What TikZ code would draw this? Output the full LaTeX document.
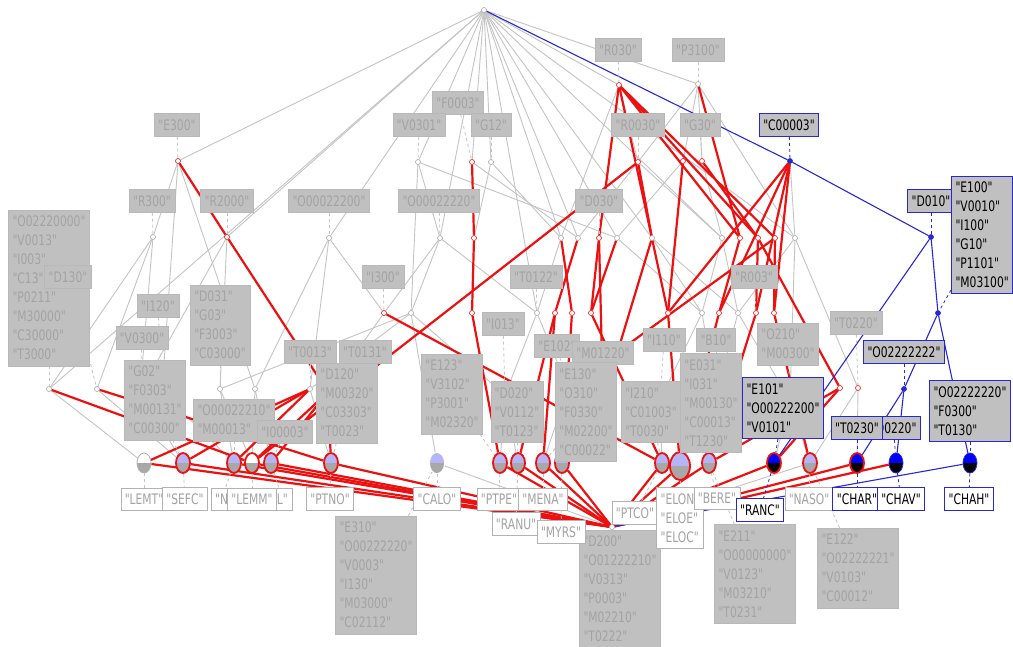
\documentclass[tikz,border=0pt]{standalone}
\usepackage{fontspec}
\newfontfamily\lblfont{DejaVu Sans}[FakeStretch=0.74]
\usetikzlibrary{shapes.geometric,backgrounds}

\definecolor{lgray}{RGB}{192,192,192}
\definecolor{lbltext}{RGB}{163,163,163}
\definecolor{edgegray}{RGB}{196,196,196}
\definecolor{latred}{RGB}{236,16,16}
\definecolor{latblue}{RGB}{40,40,210}
\definecolor{lilac}{RGB}{180,180,246}
\definecolor{ballgray}{RGB}{168,168,168}

\tikzset{
  cpt/.style={circle,draw=black!35,fill=white,inner sep=0pt,minimum size=5pt,line width=0.6pt},
  cptr/.style={cpt,draw=latred},
  cptb/.style={cpt,draw=latblue,fill=latblue},
  lbl/.style={rectangle,fill=lgray,draw=black!28,text=lbltext,font=\lblfont\fontsize{14.5}{19}\selectfont,align=left,inner xsep=4pt,inner ysep=6pt},
  lblb/.style={lbl,draw=latblue,line width=1pt,text=black},
  obj/.style={lbl,fill=white,draw=black!30},
  objb/.style={lbl,fill=white,draw=latblue,line width=1pt,text=black},
  ball/.style n args={3}{ellipse,minimum width=14pt,minimum height=20pt,inner sep=0pt,draw=#3,line width=1.8pt,
    path picture={\fill[#1] (path picture bounding box.north west) rectangle (path picture bounding box.east);
                  \fill[#2] (path picture bounding box.west) rectangle (path picture bounding box.south east);}},
  gl/.style={draw=edgegray,line width=0.9pt},
  rl/.style={draw=latred,line width=2.2pt},
  bl/.style={draw=latblue,line width=1.1pt},
  gd/.style={draw=edgegray,dashed,line width=0.8pt},
  bd/.style={draw=latblue,dashed,line width=0.8pt},
}

\begin{document}
\begin{tikzpicture}[x=1pt,y=-1pt]
\useasboundingbox (0,0) rectangle (1013,646);

% concepts
\node[cpt] (top) at (484,10) {};
\node[cptr] (nR030) at (619,85) {};
\node[cpt] (nP3100) at (698,84) {};
\node[cptr] (nE300) at (178,161) {};
\node[cpt] (nV0301) at (418,162) {};
\node[cptr] (nF0003) at (472,162) {};
\node[cpt] (nG12) at (491,162) {};
\node[cptr] (nR0030) at (638,162) {};
\node[cptr] (nA683) at (683,161) {};
\node[cptr] (nG30) at (702,161) {};
\node[cptb] (nC00003) at (790,161) {};
\node[cpt] (nR300) at (153,237) {};
\node[cptr] (nR2000) at (227,237) {};
\node[cpt] (nO22200) at (329,238) {};
\node[cpt] (nO22220) at (440,238) {};
\node[cptr] (nC474) at (474,238) {};
\node[cpt] (nC561) at (561,238) {};
\node[cpt] (nC578) at (578,238) {};
\node[cptr] (nD030) at (599,238) {};
\node[cpt] (nC617) at (617,238) {};
\node[cpt] (nC652) at (652,238) {};
\node[cpt] (nC722) at (722,238) {};
\node[cptr] (nC740) at (740,238) {};
\node[cptr] (nC758) at (758,238) {};
\node[cptr] (nC775) at (775,238) {};
\node[cpt] (nC795) at (795,238) {};
\node[cptb] (nD010) at (931,237) {};
\node[cptr] (nI300) at (384,313) {};
\node[cpt] (nC411) at (411,313) {};
\node[cptr] (nC472) at (472,313) {};
\node[cpt] (nT0122) at (537,313) {};
\node[cptr] (nC555) at (555,313) {};
\node[cptr] (nC572) at (572,313) {};
\node[cptr] (nC591) at (591,313) {};
\node[cptr] (nC668) at (668,313) {};
\node[cpt] (nC702) at (702,313) {};
\node[cptr] (nC719) at (719,313) {};
\node[cpt] (nC738) at (738,313) {};
\node[cptr] (nC756) at (756,313) {};
\node[cptr] (nC774) at (774,313) {};
\node[cptb] (nE100) at (938,313) {};
\node[cpt] (nO2220) at (49,389) {};
\node[cpt] (nD130) at (97,389) {};
\node[cpt] (nV0300) at (140,392) {};
\node[cpt] (nI120) at (162,392) {};
\node[cpt] (nD031) at (220,389) {};
\node[cpt] (nC255) at (255,389) {};
\node[cpt] (nT0013) at (310,389) {};
\node[cpt] (nT0131) at (328,392) {};
\node[cpt] (nI013) at (505,395) {};
\node[cpt] (nE102) at (568,388) {};
\node[cpt] (nM01220) at (603,400) {};
\node[cpt] (nI110) at (660,400) {};
\node[cpt] (nB10) at (716,395) {};
\node[cpt] (nO210) at (790,400) {};
\node[cptr] (nC840) at (840,388) {};
\node[cptr] (nT0220) at (858,388) {};
\node[cptb] (nO2222) at (904,389) {};
\node[cpt] (bot) at (612,527) {};

% objects
\node[ball={white}{ballgray}{black!30},line width=0.8pt] (bLEMT) at (144,463) {};
\node[ball={lilac}{ballgray}{latred}] (bSEFC) at (183,463) {};
\node[ball={lilac}{ballgray}{latred}] (bN) at (234,463) {};
\node[ball={white}{ballgray}{latred}] (bLEMM) at (252,463) {};
\node[ball={lilac}{ballgray}{latred}] (bL) at (271,463) {};
\node[ball={lilac}{ballgray}{latred}] (bPTNO) at (331,463) {};
\node[ball={lilac}{ballgray}{none}] (bCALO) at (437,463) {};
\node[ball={lilac}{ballgray}{latred}] (bPTPE) at (500,463) {};
\node[ball={lilac}{ballgray}{latred}] (bRANU) at (518,463) {};
\node[ball={lilac}{ballgray}{latred}] (bMENA) at (543,463) {};
\node[ball={lilac}{ballgray}{latred}] (bMYRS) at (562,463) {};
\node[ball={lilac}{ballgray}{latred}] (bPTCO) at (662,463) {};
\node[ball={lilac}{ballgray}{latred},minimum width=20pt,minimum height=28pt] (bELON) at (680,466) {};
\node[ball={lilac}{ballgray}{latred}] (bBERE) at (709,463) {};
\node[ball={blue}{black}{latred}] (bRANC) at (774,463) {};
\node[ball={lilac}{ballgray}{latred}] (bNASO) at (810,463) {};
\node[ball={blue}{black}{latred}] (bCHAR) at (857,463) {};
\node[ball={blue}{black}{latblue},line width=0.8pt] (bCHAV) at (896,463) {};
\node[ball={blue}{black}{latblue},line width=0.8pt] (bCHAH) at (970,463) {};

% attribute labels
\node[lbl] (lR030) at (618,50) {"R030"};
\node[lbl] (lP3100) at (698,50) {"P3100"};
\node[lbl] (lF0003) at (458,103) {"F0003"};
\node[lbl] (lE300) at (177,125) {"E300"};
\node[lbl] (lV0301) at (419,125) {"V0301"};
\node[lbl] (lG12) at (491,125) {"G12"};
\node[lbl] (lR0030) at (638,125) {"R0030"};
\node[lbl] (lG30) at (700,125) {"G30"};
\node[lblb] (lC00003) at (789,125) {"C00003"};
\node[lbl] (lR300) at (152,201) {"R300"};
\node[lbl] (lR2000) at (227,201) {"R2000"};
\node[lbl] (lO22200) at (329,201) {"O00022200"};
\node[lbl] (lO22220) at (439,201) {"O00022220"};
\node[lbl] (lD030) at (599,201) {"D030"};
\node[lblb] (lD010) at (931,201) {"D010"};
\node[lblb,anchor=west] (lE100) at (951,235) {"E100"\\"V0010"\\"I100"\\"G10"\\"P1101"\\"M03100"};
\node[lbl] (lBig) at (49,288) {"O02220000"\\"V0013"\\"I003"\\"C13"\\"P0211"\\"M30000"\\"C30000"\\"T3000"};
\node[lbl] (lD130) at (68,277) {"D130"};
\node[lbl] (lI300) at (383,277) {"I300"};
\node[lbl] (lT0122) at (536,277) {"T0122"};
\node[lbl] (lR003) at (754,277) {"R003"};
\node[lbl] (lI120) at (158,306) {"I120"};
\node[lbl] (lD031) at (220,325) {"D031"\\"G03"\\"F3003"\\"C03000"};
\node[lbl] (lV0300) at (142,338) {"V0300"};
\node[lbl] (lI013) at (503,324) {"I013"};
\node[lbl] (lT0220) at (856,323) {"T0220"};
\node[lbl] (lI110) at (664,340) {"I110"};
\node[lbl] (lB10) at (716,340) {"B10"};
\node[lbl] (lO210) at (788,344) {"O210"\\"M00300"};
\node[lbl] (lE102) at (557,346) {"E102"};
\node[lbl] (lM01220) at (603,353) {"M01220"};
\node[lbl] (lT0013) at (310,352) {"T0013"};
\node[lbl] (lT0131) at (365,352) {"T0131"};
\node[lblb] (lO2222) at (904,352) {"O02222222"};
\node[lbl] (lG02) at (155,400) {"G02"\\"F0303"\\"M00131"\\"C00300"};
\node[lbl] (lD120) at (347,403) {"D120"\\"M00320"\\"C03303"\\"T0023"};
\node[lbl] (lE123) at (452,394) {"E123"\\"V3102"\\"P3001"\\"M02320"};
\node[lbl] (lD020) at (517,412) {"D020"\\"V0112"\\"T0123"};
\node[lbl] (lE130) at (586,412) {"E130"\\"O310"\\"F0330"\\"M02200"\\"C00022"};
\node[lbl] (lI210) at (651,412) {"I210"\\"C01003"\\"T0030"};
\node[lbl] (lE031) at (711,403) {"E031"\\"I031"\\"M00130"\\"C00013"\\"T1230"};
\node[lblb] (lE101) at (783,408) {"E101"\\"O00222200"\\"V0101"};
\node[lbl] (lO22210) at (234,420) {"O00022210"\\"M00013"};
\node[lbl] (lI00003) at (285,432) {"I00003"};
\node[lblb,anchor=east] (lO0220) at (921,428) {"O0220"};
\node[lblb] (lT0230) at (857,428) {"T0230"};
\node[lblb] (lO22220b) at (970,411) {"O02222220"\\"F0300"\\"T0130"};
\node[lbl] (lE310) at (376,575) {"E310"\\"O00222220"\\"V0003"\\"I130"\\"M03000"\\"C02112"};
\node[lbl] (lD200) at (620,589) {"D200"\\"O01222210"\\"V0313"\\"P0003"\\"M02210"\\"T0222"};
\node[lbl] (lE211) at (755,574) {"E211"\\"O00000000"\\"V0123"\\"M03210"\\"T0231"};
\node[lbl] (lE122) at (858,568) {"E122"\\"O02222221"\\"V0103"\\"C00012"};

% object labels
\node[obj] (oLEMT) at (144,499) {"LEMT"};
\node[obj] (oSEFC) at (185,499) {"SEFC"};
\node[obj,anchor=west] (oN) at (211,499) {"N};
\node[obj,anchor=east] (oL) at (292,499) {L"};
\node[obj] (oLEMM) at (252,499) {"LEMM"};
\node[obj] (oPTNO) at (330,499) {"PTNO"};
\node[obj] (oCALO) at (437,499) {"CALO"};
\node[obj] (oPTPE) at (499,499) {"PTPE"};
\node[obj] (oMENA) at (543,499) {"MENA"};
\node[obj] (oRANU) at (516,524) {"RANU"};
\node[obj] (oMYRS) at (561,532) {"MYRS"};
\node[obj] (oPTCO) at (635,513) {"PTCO"};
\node[obj] (oELON) at (680,518) {"ELON"\\"ELOE"\\"ELOC"};
\node[obj] (oBERE) at (717,498) {"BERE"};
\node[objb] (oRANC) at (760,510) {"RANC"};
\node[obj] (oNASO) at (809,499) {"NASO"};
\node[objb] (oCHAR) at (857,499) {"CHAR"};
\node[objb] (oCHAV) at (901,499) {"CHAV"};
\node[objb] (oCHAH) at (969,499) {"CHAH"};

\begin{scope}[on background layer]
\fill[white] (0,0) rectangle (1013,646);
% gray edges
\foreach \a/\b in {top/nE300,top/nR2000,top/nO2220,top/nO22200,top/nV0301,top/nF0003,top/nG12,
  top/nO22220,top/nC561,top/nC578,top/nT0122,top/nC617,top/nC652,top/nR030,top/nP3100,top/nC722,top/nC795,
  nE300/nR300,nE300/nI120,nE300/nC255,nR300/nO2220,nR300/nD130,nR300/nV0300,nR2000/nD031,nR2000/nV0300,
  nO22200/nT0013,nO22200/nC255,nO22200/nI300,nO22220/nC411,nO22220/nI300,nO22220/nT0122,
  nV0301/nC617,nV0301/nO22220,nV0301/nC411,nG12/nC474,nG12/nC561,nF0003/nC578,
  nR030/nR0030,nR030/nC561,nP3100/nR0030,nP3100/nG30,nP3100/nA683,nP3100/nC795,
  nR0030/nC578,nR0030/nC722,nG30/nC722,nA683/nC617,nC00003/nC795,
  nC561/nT0122,nC617/nC702,nC652/nC702,nC652/nC738,nC722/nC702,nC722/nC738,nC795/nC738,
  nC795/nT0220,nC795/nO210,nI300/nT0131,nC411/nT0013,nC411/nI013,nC411/bCALO,nT0122/nE102,
  nT0122/nI013,nC702/nI110,nC702/nB10,nC738/nB10,nC738/nO210,nD031/nC411,
  nO2220/bLEMT,nD130/bSEFC,nV0300/bSEFC,nI120/bN,nD031/bN,nD031/bLEMM,nC255/bL,nC255/bLEMM,
  nT0013/bPTNO,nI013/bPTPE,nI013/bRANU,nE102/bMENA,nM01220/bMYRS,nI110/bPTCO,nB10/bELON,
  nB10/bBERE,nO210/bNASO,nO210/bRANC,nT0220/bCHAR,nT0220/bNASO,bCALO/bot,bNASO/bot}
  \draw[gl] (\a) -- (\b);
% red edges
\foreach \a/\b in {nE300/nR2000,nR2000/nT0131,nT0131/bPTNO,nO2220/bLEMM,nD130/bPTNO,
  bLEMT/nT0013,bN/nT0013,bLEMM/nT0131,bL/nT0131,bSEFC/nT0013,
  bLEMT/bot,bSEFC/bot,bN/bot,bLEMM/bot,bL/bot,bPTNO/bot,
  nR0030/bLEMM,nF0003/nC474,nC474/nC472,nC472/bPTPE,nI300/bPTCO,
  nR030/nD030,nR030/nC668,nR030/nC740,nR030/nC758,nR030/nC775,nP3100/nC740,
  nR0030/nC652,nC652/nM01220,nD030/nM01220,nC561/nC572,nC578/nC555,nD030/nC591,nC617/nC591,
  nC555/bRANU,nC555/bMENA,nC572/bMYRS,nC591/bPTCO,nC668/bELON,
  nC00003/nC719,nC00003/nC756,nC00003/nC774,nC00003/nC668,
  nC740/nC719,nC758/nC756,nC775/nC774,nC758/nC840,nA683/nC668,nG30/nC758,
  nC719/bELON,nC756/bBERE,nC774/bNASO,nC840/bBERE,nC840/bRANC,nC775/nE102,
  bPTPE/bot,bRANU/bot,bMENA/bot,bMYRS/bot,bPTCO/bot,bELON/bot,bBERE/bot,bRANC/bot,bCHAR/bot,bCHAV/bot}
  \draw[rl] (\a) -- (\b);
% blue edges
\foreach \a/\b in {top/nC00003,nC00003/nD010,nD010/nE100,nD010/bRANC,nE100/nO2222,nE100/bCHAH,
  nO2222/bCHAR,nO2222/bCHAV,bCHAH/bot}
  \draw[bl] (\a) -- (\b);
% label links
\foreach \a/\b in {lE300/nE300,lF0003/nF0003,lV0301/nV0301,lG12/nG12,lR030/nR030,lP3100/nP3100,
  lR0030/nR0030,lG30/nG30,lR300/nR300,lR2000/nR2000,lO22200/nO22200,lO22220/nO22220,lD030/nD030,
  lBig/nO2220,lD130/nD130,lI120/nI120,lV0300/nV0300,lG02/bSEFC,lD031/nD031,lT0013/nT0013,
  lO22210/bN,lI00003/bL,lT0131/nT0131,lD120/bPTNO,lI300/nI300,lT0122/nT0122,lI013/nI013,
  lE102/nE102,lM01220/nM01220,lE123/bPTPE,lD020/bRANU,lE130/bMENA,lI210/bPTCO,lE031/bELON,
  lI110/nI110,lB10/nB10,lO210/nO210,lR003/nC756,lT0220/nT0220,lE310/bCALO,lD200/bot,
  lE211/bBERE,lE122/bNASO,
  bLEMT/oLEMT,bSEFC/oSEFC,bN/oN,bLEMM/oLEMM,bL/oL,bPTNO/oPTNO,bCALO/oCALO,bPTPE/oPTPE,
  bRANU/oRANU,bMENA/oMENA,bMYRS/oMYRS,bPTCO/oPTCO,bELON/oELON,bBERE/oBERE,bNASO/oNASO}
  \draw[gd] (\a) -- (\b);
\foreach \a/\b in {lC00003/nC00003,lD010/nD010,lE100/nE100,lO2222/nO2222,lE101/bRANC,
  lT0230/bCHAR,lO0220/bCHAV,lO22220b/bCHAH,bRANC/oRANC,bCHAR/oCHAR,bCHAV/oCHAV,bCHAH/oCHAH}
  \draw[bd] (\a) -- (\b);
\end{scope}
\end{tikzpicture}
\end{document}
